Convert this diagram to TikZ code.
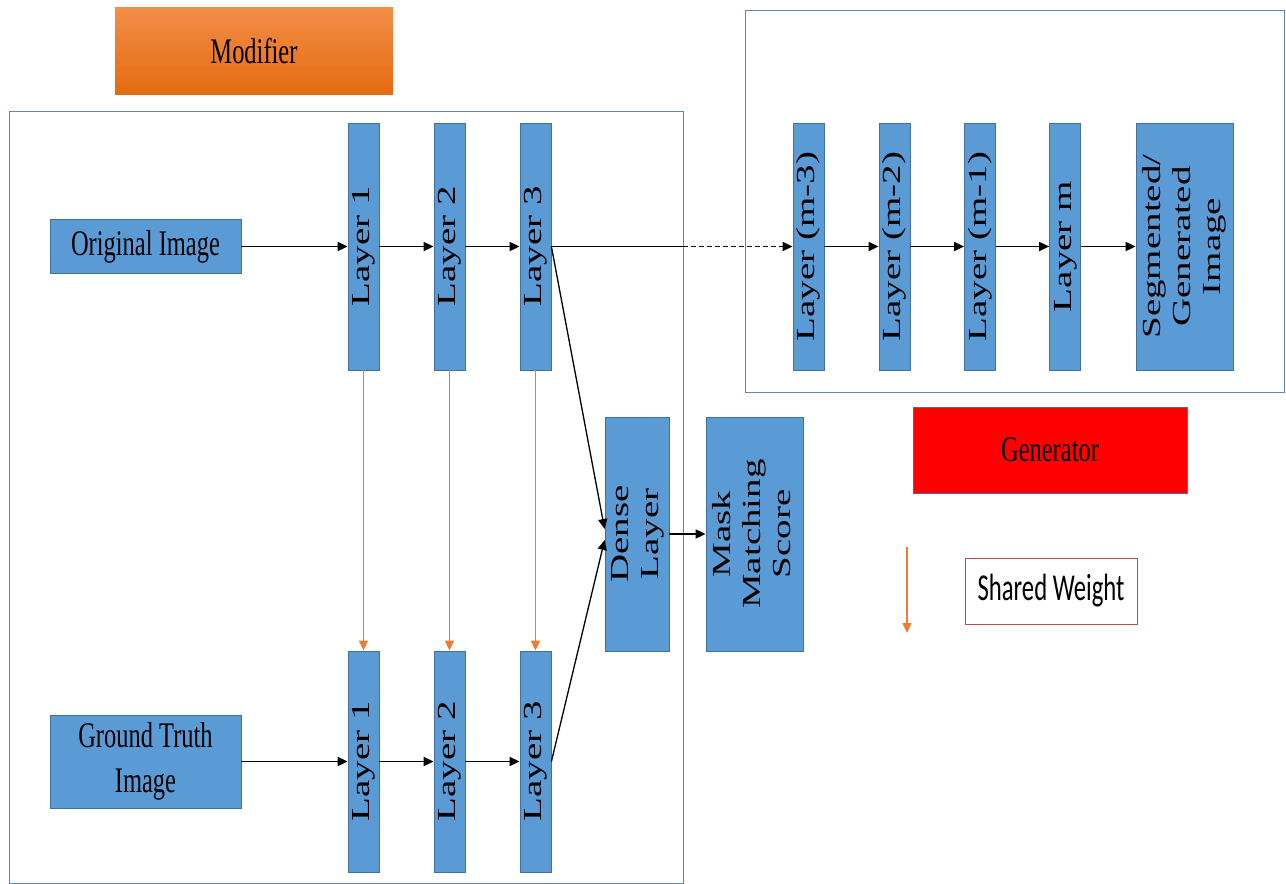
\documentclass[tikz,border=0pt]{standalone}
\usepackage{graphicx}
\usepackage{fontspec}
\setmainfont{Liberation Serif}
\newfontfamily\hserif[FakeStretch=0.68]{Liberation Serif}
\newfontfamily\vserif[FakeStretch=1.5]{Liberation Serif}
\newfontfamily\hsans[FakeStretch=0.65]{Carlito}
\usetikzlibrary{arrows.meta,calc}

\definecolor{boxblue}{HTML}{5B9BD5}
\definecolor{edgeblue}{HTML}{41719C}
\definecolor{frameblue}{HTML}{6286AC}
\definecolor{shareorange}{HTML}{ED7D31}
\definecolor{modtop}{HTML}{F28D48}
\definecolor{modbot}{HTML}{E46C10}
\definecolor{legendred}{HTML}{C84848}

% vertical (rotated) label, possibly on several lines
\newcommand{\vlabel}[1]{\rotatebox{90}{\vserif\fontsize{26}{30}\selectfont\begin{tabular}{@{}c@{}}#1\end{tabular}}}

\tikzset{
  >={Triangle[length=10pt,width=9pt]},
  blk/.style={draw=edgeblue, fill=boxblue, line width=0.8pt, inner sep=0pt, align=center},
  hlabel/.style={font=\hserif\fontsize{36}{45}\selectfont},
  layerbox/.style={blk, minimum width=31pt, minimum height=247pt},
  lowlayer/.style={blk, minimum width=31pt, minimum height=221pt},
  wideblk/.style={blk, minimum width=97pt, minimum height=247pt},
  inputbox/.style={blk, hlabel, minimum width=191pt},
  frame/.style={draw=frameblue, line width=0.9pt, inner sep=0pt},
  flow/.style={draw=black, line width=1.7pt, ->},
  link/.style={draw=black, line width=1.3pt},
  shared/.style={draw=shareorange, line width=1.5pt, ->},
}

\begin{document}
\begin{tikzpicture}[x=1pt, y=-1pt]
\useasboundingbox (0,0) rectangle (1286,884);

% enclosing frames
\node[frame, minimum width=674pt, minimum height=772pt] (modframe) at (346,497) {};
\node[frame, minimum width=539pt, minimum height=382pt] (genframe) at (1014.5,201) {};

% titles
\node[draw=none, top color=modtop, bottom color=modbot, hlabel,
      minimum width=278pt, minimum height=87pt, inner sep=0pt] (modifier) at (254,50.5) {Modifier};
\node[draw=edgeblue, line width=0.8pt, fill=red, hlabel,
      minimum width=274pt, minimum height=86pt, inner sep=0pt] (generator) at (1050,450) {Generator};

% inputs
\node[inputbox, minimum height=54pt] (orig) at (145.5,246.5) {Original Image};
\node[inputbox, minimum height=93pt] (gt) at (145.5,761.5) {Ground Truth\\Image};

% modifier layers, upper branch
\node[layerbox] (u1) at (363.5,246.5) {\vlabel{Layer 1}};
\node[layerbox] (u2) at (449.5,246.5) {\vlabel{Layer 2}};
\node[layerbox] (u3) at (535.5,246.5) {\vlabel{Layer 3}};

% modifier layers, lower branch
\node[lowlayer] (d1) at (363.5,761.5) {\vlabel{Layer 1}};
\node[lowlayer] (d2) at (449.5,761.5) {\vlabel{Layer 2}};
\node[lowlayer] (d3) at (535.5,761.5) {\vlabel{Layer 3}};

% dense layer and score
\node[blk, minimum width=64pt, minimum height=234pt] (dense) at (637,534) {\vlabel{Dense\\Layer}};
\node[blk, minimum width=97pt, minimum height=234pt] (score) at (754.5,534) {\vlabel{Mask\\Matching\\Score}};

% generator layers
\node[layerbox] (g3) at (808.5,246.5) {\vlabel{Layer (m-3)}};
\node[layerbox] (g2) at (894.5,246.5) {\vlabel{Layer (m-2)}};
\node[layerbox] (g1) at (980,246.5) {\vlabel{Layer (m-1)}};
\node[layerbox] (gm) at (1065,246.5) {\vlabel{Layer m}};
\node[wideblk] (seg) at (1184.5,246.5) {\vlabel{Segmented/\\Generated\\Image}};

% legend
\node[draw=legendred, line width=0.9pt, fill=white, inner sep=0pt,
      minimum width=172pt, minimum height=66pt,
      font=\hsans\fontsize{38}{44}\selectfont] (legend) at (1051,591) {Shared Weight};
\coordinate (legtop) at (907,547);
\coordinate (legbot) at (907,633);
\draw[shared] (legtop) -- (legbot);

% upper flow
\draw[flow] (orig.east) -- (u1.west);
\draw[flow] (u1.east) -- (u2.west);
\draw[flow] (u2.east) -- (u3.west);
\coordinate (gap) at (683,246.5);
\draw[flow, -] (u3.east) -- (gap);
\draw[flow, dash pattern=on 5pt off 3pt] (gap) -- (g3.west);
\draw[flow] (g3.east) -- (g2.west);
\draw[flow] (g2.east) -- (g1.west);
\draw[flow] (g1.east) -- (gm.west);
\draw[flow] (gm.east) -- (seg.west);

% lower flow
\draw[flow] (gt.east) -- (d1.west);
\draw[flow] (d1.east) -- (d2.west);
\draw[flow] (d2.east) -- (d3.west);

% both branches into the dense layer
\draw[link, ->] (u3.east) -- ($(dense.west)+(0,-5)$);
\draw[link, ->] (d3.east) -- ($(dense.west)+(0,6)$);
\draw[flow] (dense.east) -- (score.west);

% shared weights between the branches
\draw[shared] (u1.south) -- (d1.north);
\draw[shared] (u2.south) -- (d2.north);
\draw[shared] (u3.south) -- (d3.north);
\end{tikzpicture}
\end{document}
